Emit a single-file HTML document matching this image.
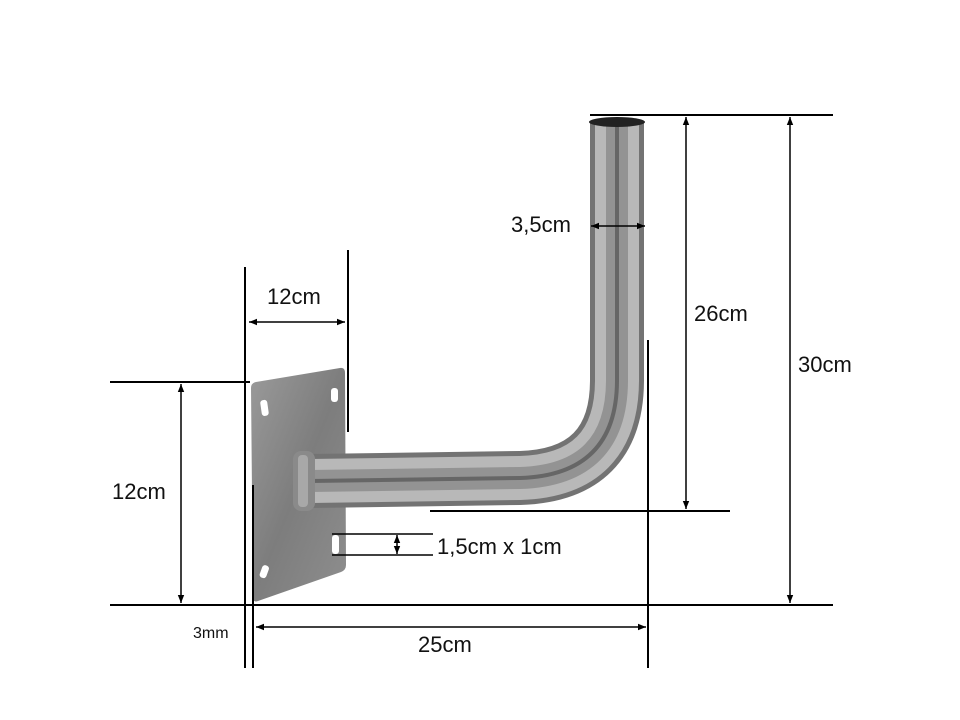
<!DOCTYPE html>
<html><head><meta charset="utf-8"><style>
html,body{margin:0;padding:0;background:#fff;}
svg{display:block;}
text{font-family:"Liberation Sans",sans-serif;fill:#111;}
</style></head><body>
<svg width="960" height="720" viewBox="0 0 960 720" xmlns="http://www.w3.org/2000/svg">
<defs>
<linearGradient id="pl" x1="0" y1="0" x2="1" y2="1">
<stop offset="0" stop-color="#9a9a9a"/><stop offset="0.5" stop-color="#7d7d7d"/><stop offset="1" stop-color="#8e8e8e"/>
</linearGradient>
<marker id="a" viewBox="0 0 10 10" refX="10" refY="5" markerWidth="8" markerHeight="8" orient="auto-start-reverse" markerUnits="userSpaceOnUse">
<path d="M0,1 L10,5 L0,9 z" fill="#000"/></marker>
</defs>
<path d="M251,388 Q251,383 256,382 L340,368 Q345,367 345,373 L346,565 Q346,570 341,572 L258,601 Q253,603 253,597 Z" fill="url(#pl)"/>
<rect x="261" y="400" width="7" height="16" rx="3" fill="#fff" transform="rotate(-8 264 408)"/>
<rect x="331" y="388" width="7" height="14" rx="3" fill="#fff"/>
<rect x="332" y="535" width="7" height="19" rx="3" fill="#fff"/>
<rect x="261" y="565" width="7" height="13" rx="3" fill="#fff" transform="rotate(20 264 571)"/>
<g fill="none">
<path d="M310,481 L520,478 Q617,475 617,380 L617,122" stroke="#737373" stroke-width="54"/>
<path d="M310,481 L520,478 Q617,475 617,380 L617,122" stroke="#b8b8b8" stroke-width="44"/>
<path d="M310,481 L520,478 Q617,475 617,380 L617,122" stroke="#939393" stroke-width="22"/>
<path d="M310,481 L520,478 Q617,475 617,380 L617,122" stroke="#666" stroke-width="4"/>
</g>
<rect x="293" y="451" width="22" height="60" rx="8" fill="#8a8a8a"/>
<rect x="298" y="455" width="10" height="52" rx="4" fill="#a8a8a8"/>
<ellipse cx="617" cy="122" rx="28" ry="5" fill="#222"/>
<g stroke="#000" stroke-width="2" fill="none">
<line x1="590" y1="115" x2="833" y2="115"/>
<line x1="110" y1="605" x2="833" y2="605"/>
<line x1="110" y1="382" x2="250" y2="382"/>
<line x1="430" y1="511" x2="730" y2="511"/>
<line x1="245" y1="267" x2="245" y2="668"/>
<line x1="253" y1="485" x2="253" y2="668"/>
<line x1="348" y1="250" x2="348" y2="432"/>
<line x1="648" y1="340" x2="648" y2="668"/>
</g>
<g stroke="#000" stroke-width="1.5" fill="none">
<line x1="249" y1="322" x2="345" y2="322" marker-start="url(#a)" marker-end="url(#a)"/>
<line x1="181" y1="384" x2="181" y2="603" marker-start="url(#a)" marker-end="url(#a)"/>
<line x1="686" y1="117" x2="686" y2="509" marker-start="url(#a)" marker-end="url(#a)"/>
<line x1="790" y1="117" x2="790" y2="603" marker-start="url(#a)" marker-end="url(#a)"/>
<line x1="256" y1="627" x2="646" y2="627" marker-start="url(#a)" marker-end="url(#a)"/>
<line x1="591" y1="226" x2="645" y2="226" marker-start="url(#a)" marker-end="url(#a)"/>
<line x1="332" y1="534" x2="433" y2="534"/>
<line x1="332" y1="555" x2="433" y2="555"/>
<line x1="397" y1="535" x2="397" y2="554" marker-start="url(#a)" marker-end="url(#a)"/>
</g>
<text x="511" y="232" font-size="22">3,5cm</text>
<text x="267" y="304" font-size="22">12cm</text>
<text x="694" y="321" font-size="22">26cm</text>
<text x="798" y="372" font-size="22">30cm</text>
<text x="112" y="499" font-size="22">12cm</text>
<text x="437" y="554" font-size="22">1,5cm x 1cm</text>
<text x="193" y="638" font-size="16">3mm</text>
<text x="418" y="652" font-size="22">25cm</text>
</svg>
</body></html>
